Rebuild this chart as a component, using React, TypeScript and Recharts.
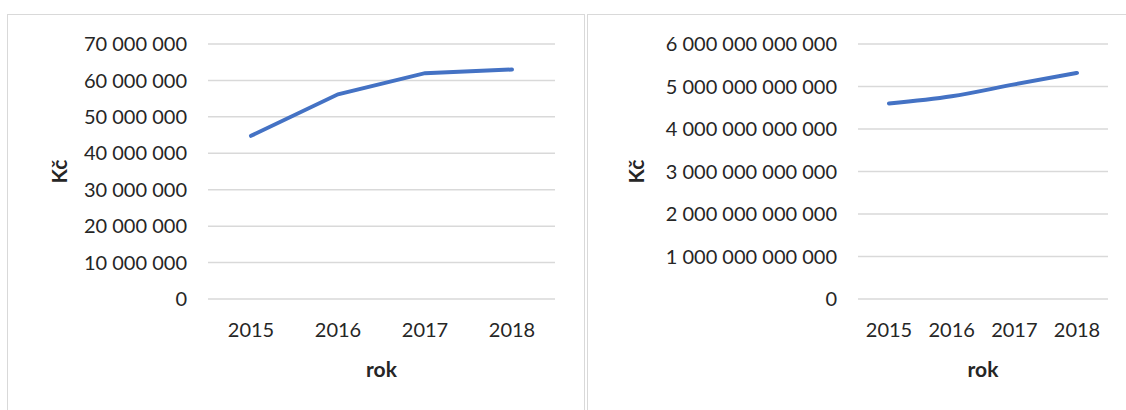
import { LineChart, Line, XAxis, YAxis, CartesianGrid } from "recharts";

// years on the x axis (shared by both charts)
const years = ["2015", "2016", "2017", "2018"];

// left chart: values in Kč
const leftValues = [44800000, 56200000, 62000000, 63000000];
const leftTicks = [0, 10000000, 20000000, 30000000, 40000000, 50000000, 60000000, 70000000];

// right chart: values in Kč
const rightValues = [4600000000000, 4770000000000, 5050000000000, 5320000000000];
const rightTicks = [0, 1000000000000, 2000000000000, 3000000000000, 4000000000000, 5000000000000, 6000000000000];

const FONT = "Lato, 'Open Sans', sans-serif";
const TEXT = "#262626";
const LINE = "#4472C4";
const GRID = "#d9d9d9";

function formatKc(v: number): string {
  return String(Math.round(v)).replace(/\B(?=(\d{3})+(?!\d))/g, " ");
}

interface PanelProps {
  values: number[];
  ticks: number[];
  width: number;
  yWidth: number;
  marginRight: number;
  pad: number;
  smooth: boolean;
}

function Panel({ values, ticks, width, yWidth, marginRight, pad, smooth }: PanelProps) {
  const data = years.map((y, i) => ({ year: y, value: values[i] }));
  const tickStyle = { fill: TEXT, fontSize: 20, fontFamily: FONT };
  const titleStyle = { fill: TEXT, fontSize: 21, fontWeight: 700, fontFamily: FONT, textAnchor: "middle" as const };

  return (
    <LineChart
      width={width}
      height={395}
      data={data}
      margin={{ top: 29, right: marginRight, left: 40, bottom: 21 }}
    >
      <CartesianGrid vertical={false} stroke={GRID} strokeWidth={1.5} />
      <XAxis
        dataKey="year"
        axisLine={false}
        tickLine={false}
        tick={tickStyle}
        tickMargin={18}
        height={90}
        padding={{ left: pad, right: pad }}
        label={{ value: "rok", position: "insideBottom", offset: 12, style: titleStyle }}
      />
      <YAxis
        domain={[ticks[0], ticks[ticks.length - 1]]}
        ticks={ticks}
        axisLine={false}
        tickLine={false}
        tick={tickStyle}
        tickMargin={15}
        width={yWidth}
        tickFormatter={formatKc}
        label={{ value: "Kč", angle: -90, position: "insideLeft", offset: 12, style: titleStyle }}
      />
      <Line
        type={smooth ? "monotone" : "linear"}
        dataKey="value"
        stroke={LINE}
        strokeWidth={4}
        strokeLinecap="round"
        dot={false}
        activeDot={false}
        isAnimationActive={false}
      />
    </LineChart>
  );
}

export default function App() {
  return (
    <div
      style={{
        position: "absolute",
        left: 0,
        top: 0,
        width: 1126,
        height: 410,
        background: "#fff",
        overflow: "hidden",
      }}
    >
      {/* panel frames */}
      <div
        style={{
          position: "absolute",
          left: 7,
          top: 14,
          width: 576,
          height: 420,
          border: `1.5px solid ${GRID}`,
        }}
      />
      <div
        style={{
          position: "absolute",
          left: 587,
          top: 14,
          width: 600,
          height: 420,
          border: `1.5px solid ${GRID}`,
        }}
      />
      <div style={{ position: "absolute", left: 8, top: 15 }}>
        <Panel values={leftValues} ticks={leftTicks} width={577} yWidth={160} marginRight={30} pad={43} smooth={false} />
      </div>
      <div style={{ position: "absolute", left: 585, top: 15 }}>
        <Panel values={rightValues} ticks={rightTicks} width={541} yWidth={233} marginRight={18} pad={31} smooth={true} />
      </div>
    </div>
  );
}
